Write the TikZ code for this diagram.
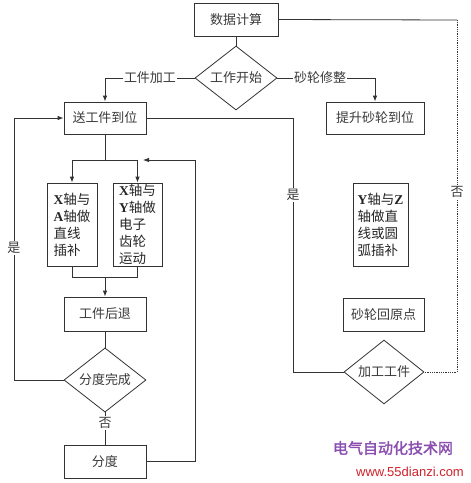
\documentclass[tikz,border=0pt]{standalone}
\usepackage{fontspec}
\newfontfamily\cjk{Noto Sans CJK SC}
\newfontfamily\cjkb[FakeBold=2]{Noto Sans CJK SC}
\newfontfamily\lats{Liberation Serif}
\usetikzlibrary{arrows.meta,shapes.geometric}
\definecolor{linec}{HTML}{333333}
\definecolor{txtc}{HTML}{3A3A3A}
\definecolor{wmpurple}{HTML}{8A4FB0}
\definecolor{wmred}{HTML}{D0222A}
\tikzset{
  box/.style={draw=linec, line width=0.8pt, inner sep=0pt, text=txtc, align=left},
  dec/.style={diamond, draw=linec, line width=0.8pt, inner sep=0pt, text=txtc},
  conn/.style={draw=linec, line width=0.8pt},
  arr/.style={conn, -{Latex[length=6pt,width=4.5pt]}},
  lab/.style={fill=white, inner sep=1pt, text=txtc},
}
\newcommand{\Lx}[1]{{\lats\bfseries #1}}
\begin{document}
\begin{tikzpicture}[x=1pt,y=-1pt, font=\cjk\fontsize{13}{17}\selectfont]
\useasboundingbox[fill=white] (0,0) rectangle (471,483);

% nodes
\node[box, minimum width=84pt, minimum height=33pt] (calc) at (236,19.5) {数据计算};
\node[dec, minimum width=82pt, minimum height=49pt] (start) at (236,78) {工作开始};
\node[box, minimum width=82pt, minimum height=32pt] (feed) at (105,118) {送工件到位};
\node[box, minimum width=98pt, minimum height=32pt] (lift) at (375,118) {提升砂轮到位};
\node[box, minimum width=50pt, minimum height=83pt, text=black!85, font=\cjk\fontsize{13.5}{17}\selectfont] (b1) at (72,224.5)
  {\Lx{X}轴与\\\Lx{A}轴做\\直线\\插补};
\node[box, minimum width=49pt, minimum height=83pt, text=black!85, font=\cjk\fontsize{13.5}{17}\selectfont] (b2) at (137.5,224.5)
  {\Lx{X}轴与\\\Lx{Y}轴做\\电子\\齿轮\\运动};
\node[box, minimum width=55pt, minimum height=83pt, text=black!85, font=\cjk\fontsize{13.5}{17}\selectfont] (yz) at (380.5,224.5)
  {\Lx{Y}轴与\Lx{Z}\\轴做直\\线或圆\\弧插补};
\node[box, minimum width=82pt, minimum height=34pt] (back) at (105,314) {工件后退};
\node[box, minimum width=81pt, minimum height=33pt] (home) at (383.5,314.5) {砂轮回原点};
\node[dec, minimum width=82pt, minimum height=48pt] (idx) at (105,380) {分度完成};
\node[box, minimum width=82pt, minimum height=33pt] (div) at (105,461.5) {分度};
\node[dec, minimum width=80pt, minimum height=50pt] (mach) at (384,372) {加工工件};

% coordinates
\coordinate (kL) at (105,78);
\coordinate (kR) at (375,78);
\coordinate (kF) at (293,118);
\coordinate (kLoop) at (14,380);
\coordinate (fk) at (105,160);
\coordinate (fL) at (72,160);
\coordinate (fM) at (137.5,160);
\coordinate (fR) at (195,160);
\coordinate (rB) at (195,461.5);
\coordinate (rE) at (143,160);
\coordinate (jn) at (105,277);
\coordinate (c1) at (457,20);
\coordinate (c2) at (457,372);

% connectors
\draw[arr] (start.west) -- (kL) -- (feed.north);
\draw[arr] (start.east) -- (kR) -- (lift.north);
\draw[conn] (feed.east) -- (kF) |- (mach.west);
\draw[arr] (idx.west) -- (kLoop) |- (feed.west);
\draw[conn] (feed.south) -- (fk);
\draw[arr] (fk) -- (fL) -- (b1.north);
\draw[arr] (fk) -- (fM) -- (b2.north);
\draw[arr] (div.east) -- (rB) -- (fR) -- (rE);
\draw[conn] (b1.south) |- (jn);
\draw[conn] (b2.south) |- (jn);
\draw[arr] (jn) -- (back.north);
\draw[conn] (back.south) -- (idx.north);
\draw[conn] (idx.south) -- (div.north);
\draw[conn] (calc.east) -- (c1);
\draw[conn, densely dotted] (c1) -- (c2) -- (mach.east);
\draw[conn] (calc.south) -- (start.north);

% labels
\node[lab] (lw) at (150,78) {工件加工};
\node[lab] (lg) at (320,78) {砂轮修整};
\node[lab] (ly1) at (293,195) {是};
\node[lab] (ly2) at (14,248) {是};
\node[lab] (ln1) at (457,192) {否};
\node[lab] (ln2) at (105,423) {否};

% watermark
\node[text=wmpurple, font=\cjkb\fontsize{15}{15}\selectfont, inner sep=0pt] (wm1) at (393,448) {电气自动化技术网};
\node[text=wmred, font=\fontspec{Liberation Sans}\fontsize{13}{13}\selectfont, inner sep=0pt] (wm2) at (410,472) {www.55dianzi.com};
\end{tikzpicture}
\end{document}
